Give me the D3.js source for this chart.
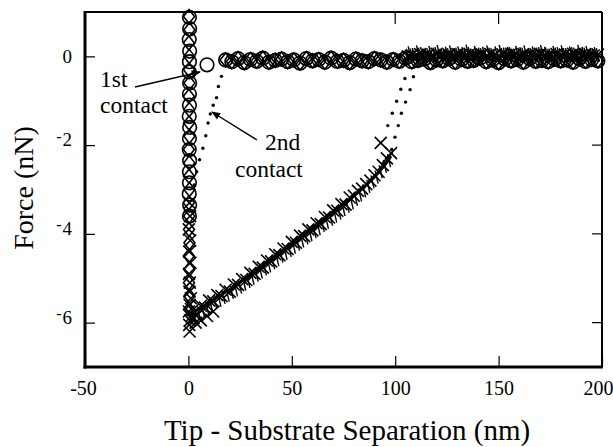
<!DOCTYPE html>
<html>
<head>
<meta charset="utf-8">
<script src="https://cdn.jsdelivr.net/npm/d3@7"></script>
<style>
  html, body { margin: 0; padding: 0; background: #fff; }
  svg { display: block; }
  text { font-family: "Liberation Serif", "Times New Roman", serif; fill: #000; }
</style>
</head>
<body>
<svg id="chart" width="613" height="447"></svg>
<script>
// ---------------- DATA ----------------
const xTicks = [-50, 0, 50, 100, 150, 200];
const yTicks = [0, -2, -4, -6];
const xTickLabels = ["-50", "0", "50", "100", "150", "200"];
const yTickLabels = ["0", "-2", "-4", "-6"];

// approach: circles, vertical column at contact
const colCircleX = [0.5, 0.6, 0.4, 0.6, 0.5, 0.4, 0.6, 0.5, 0.5, 0.4, 0.6, 0.5, 0.4, 0.6, 0.5, 0.5, 0.4, 0.6, 0.5];
const colCircleY = [0.88, 0.62, 0.38, 0.12, -0.12, -0.35, -0.6, -0.85, -1.1, -1.35, -1.6, -1.85, -2.1, -2.35, -2.6, -2.85, -3.1, -3.35, -3.6];
// isolated circle (1st contact jump)
const jumpCircleX = [9];
const jumpCircleY = [-0.19];
// approach baseline row (circles + diamonds)
const rowX = [18,21,24,27,30,33,36,39,42,45,48,51,54,57,60,63,66,69,72,75,78,81,84,87,90,93,96,99,102,105,108,111,114,117,120,123,126,129,132,135,138,141,144,147,150,153,156,159,162,165,168,171,174,177,180,183,186,189,192,195,198];
const rowY = [-0.08,-0.12,-0.05,-0.14,-0.07,-0.11,-0.04,-0.13,-0.09,-0.06,
              -0.12,-0.08,-0.15,-0.05,-0.1,-0.07,-0.13,-0.04,-0.11,-0.09,
              -0.14,-0.06,-0.1,-0.12,-0.05,-0.08,-0.13,-0.07,-0.11,-0.04,
              -0.12,-0.09,-0.06,-0.14,-0.08,-0.1,-0.05,-0.13,-0.07,-0.11,
              -0.09,-0.04,-0.12,-0.08,-0.14,-0.06,-0.1,-0.07,-0.13,-0.05,
              -0.11,-0.09,-0.12,-0.06,-0.1,-0.08,-0.13,-0.05,-0.11,-0.07,-0.1];

// diamonds, vertical column
const colDiamondX = [0.3, 0.5, 0.2, 0.4, 0.3, 0.5, 0.2, 0.4, 0.3, 0.5, 0.2, 0.4, 0.3, 0.5, 0.2, 0.4, 0.3, 0.5, 0.2, 0.4, 0.3, 0.5, 0.3];
const colDiamondY = [0.9, 0.6, 0.3, 0.0, -0.3, -0.6, -0.9, -1.2, -1.5, -1.8, -2.1, -2.4, -2.7, -3.0, -3.3, -3.6, -3.9, -4.2, -4.5, -4.8, -5.1, -5.4, -5.7];

// crosses in the column (bottom of contact)
const colCrossX = [0.5, 0.8, 0.2, 0.9, 0.4, 1.0, 0.3, 0.7, 0.5, 1.2, 0.6, 0.2, 1.5, 0.8, 0.4, 2.5, 0.6, 3.5, 6.0, 9.0, 12.0];
const colCrossY = [-3.3, -3.6, -3.9, -4.15, -4.4, -4.65, -4.9, -5.1, -5.3, -5.45, -5.6, -5.75, -5.85, -5.95, -6.05, -5.9, -6.2, -6.0, -5.95, -5.85, -5.75];

// retract curve: crosses
const retractX = [2,4,6,8,10,12,14,16,18,20,22,24,26,28,30,32,34,36,38,40,42,44,46,48,50,52,54,56,58,60,62,64,66,68,70,72,74,76,78,80,82,84,86,88,90,92,94,96,98,93];
const retractY = [-5.72,-5.8,-5.62,-5.66,-5.5,-5.52,-5.38,-5.4,-5.26,-5.3,
                  -5.14,-5.15,-5.02,-5.04,-4.88,-4.9,-4.74,-4.76,-4.6,-4.62,
                  -4.46,-4.48,-4.33,-4.34,-4.18,-4.2,-4.04,-4.05,-3.9,-3.92,
                  -3.76,-3.78,-3.62,-3.63,-3.47,-3.48,-3.33,-3.34,-3.18,-3.14,
                  -3.03,-2.98,-2.88,-2.8,-2.68,-2.6,-2.45,-2.3,-2.18,-1.95];
// retract curve: tick markers
const tickX = [1,3,5,7,9,11,13,15,17,19,21,23,25,27,29,31,33,35,37,39,41,43,45,47,49,51,53,55,57,59,61,63,65,67,69,71,73,75,77,79,81,83,85,87,89,91,93,95,97];
const tickY = [-5.9,-5.85,-5.78,-5.72,-5.66,-5.62,-5.55,-5.5,-5.43,-5.38,
               -5.32,-5.26,-5.2,-5.13,-5.07,-5.0,-4.93,-4.86,-4.79,-4.72,
               -4.65,-4.58,-4.5,-4.44,-4.37,-4.3,-4.23,-4.16,-4.09,-4.02,
               -3.95,-3.88,-3.81,-3.74,-3.67,-3.6,-3.53,-3.45,-3.38,-3.3,
               -3.22,-3.12,-3.03,-2.93,-2.83,-2.72,-2.6,-2.48,-2.35];
// retract fitted line
const lineX = [0, 10, 20, 30, 40, 50, 60, 70, 78, 85, 90, 95, 98];
const lineY = [-5.83, -5.55, -5.25, -4.93, -4.58, -4.22, -3.87, -3.5, -3.23, -2.95, -2.72, -2.45, -2.25];
// retract baseline after pull-off
const baseX = [106,108,110,112,114,116,118,120,122,124,126,128,130,132,134,136,138,140,142,144,146,148,150,152,154,156,158,160,162,164,166,168,170,172,174,176,178,180,182,184,186,188,190,192,194,196,198];
const baseY = [0.0,0.03,-0.02,0.05,0.01,0.04,-0.01,0.06,0.02,0.0,
               0.04,-0.02,0.05,0.01,0.03,0.06,-0.01,0.02,0.04,0.0,
               0.05,0.02,-0.02,0.04,0.01,0.06,0.03,0.0,0.05,-0.01,
               0.02,0.04,0.06,0.01,0.03,-0.02,0.05,0.02,0.04,0.0,
               0.06,0.01,0.03,0.05,-0.01,0.02,0.04];
const baseTickX = [107,109,111,113,115,117,119,121,123,125,127,129,131,133,135,137,139,141,143,145,147,149,151,153,155,157,159,161,163,165,167,169,171,173,175,177,179,181,183,185,187,189,191,193,195,197];
const baseTickY = [0.08,0.04,0.1,0.06,0.02,0.09,0.05,0.11,0.03,0.07,
                   0.1,0.04,0.08,0.06,0.12,0.03,0.09,0.05,0.07,0.1,
                   0.04,0.08,0.11,0.05,0.07,0.03,0.09,0.06,0.1,0.04,
                   0.08,0.05,0.11,0.07,0.03,0.09,0.06,0.1,0.04,0.08,
                   0.05,0.11,0.07,0.09,0.04,0.06];

// dotted traces
const dot2ndX = [2.8, 4.0, 5.4, 7.0, 8.4, 9.5, 10.6, 12.0, 13.6, 14.5, 16.0];
const dot2ndY = [-2.9, -2.6, -2.33, -2.07, -1.79, -1.5, -1.3, -1.1, -0.93, -0.68, -0.45];
const dotJumpAX = [96.4, 98.6, 100.7, 102.7, 104.7];
const dotJumpAY = [-1.56, -1.28, -1.01, -0.74, -0.5];
const dotJumpBX = [98.3, 99.9, 101.5, 103, 105, 107.2, 108.8];
const dotJumpBY = [-2.1, -1.82, -1.56, -1.28, -1.03, -0.75, -0.46];

const xTitle = "Tip - Substrate Separation (nm)";
const yTitle = "Force (nN)";

// ---------------- CHART ----------------
const W = 613, H = 447;
const m = { left: 85, right: 11, top: 12, bottom: 80 };
const svg = d3.select("#chart");
const x = d3.scaleLinear().domain([-50, 200]).range([m.left, W - m.right]);
const y = d3.scaleLinear().domain([-7, 1]).range([H - m.bottom, m.top]);

const zip = (a, b) => a.map((v, i) => [v, b[i]]);

const plot = svg.append("g");
const sw = 1.6;

// dotted traces
[[dot2ndX, dot2ndY], [dotJumpAX, dotJumpAY], [dotJumpBX, dotJumpBY]].forEach(([xs, ys]) => {
  plot.append("g").selectAll("circle").data(zip(xs, ys)).join("circle")
    .attr("cx", d => x(d[0])).attr("cy", d => y(d[1])).attr("r", 1.7).attr("fill", "#000");
});

// fitted line
plot.append("path").datum(zip(lineX, lineY))
  .attr("d", d3.line().x(d => x(d[0])).y(d => y(d[1])))
  .attr("fill", "none").attr("stroke", "#000").attr("stroke-width", 2.8);

// tick markers
function ticksMarks(xs, ys) {
  plot.append("g").selectAll("line").data(zip(xs, ys)).join("line")
    .attr("x1", d => x(d[0]) - 1.5).attr("y1", d => y(d[1]) - 6.5)
    .attr("x2", d => x(d[0]) + 1.5).attr("y2", d => y(d[1]) + 6.5)
    .attr("stroke", "#000").attr("stroke-width", 1.4);
}
ticksMarks(tickX, tickY);
ticksMarks(baseX, baseY);
ticksMarks(baseTickX, baseTickY);

// crosses
function crosses(xs, ys) {
  const g = plot.append("g");
  g.selectAll("path").data(zip(xs, ys)).join("path")
    .attr("d", d => {
      const cx = x(d[0]), cy = y(d[1]), s = 6;
      return `M${cx - s},${cy - s}L${cx + s},${cy + s}M${cx - s},${cy + s}L${cx + s},${cy - s}`;
    })
    .attr("stroke", "#000").attr("stroke-width", sw).attr("fill", "none");
}
crosses(colCrossX, colCrossY);
crosses(retractX, retractY);
crosses(baseX, baseY);

// diamonds
function diamonds(xs, ys) {
  plot.append("g").selectAll("path").data(zip(xs, ys)).join("path")
    .attr("d", d => {
      const cx = x(d[0]), cy = y(d[1]);
      return `M${cx},${cy - 7}L${cx + 5.5},${cy}L${cx},${cy + 7}L${cx - 5.5},${cy}Z`;
    })
    .attr("stroke", "#000").attr("stroke-width", sw).attr("fill", "none");
}
diamonds(colDiamondX, colDiamondY);
diamonds(rowX, rowY);

// circles
function circles(xs, ys) {
  plot.append("g").selectAll("circle").data(zip(xs, ys)).join("circle")
    .attr("cx", d => x(d[0])).attr("cy", d => y(d[1])).attr("r", 6.8)
    .attr("stroke", "#000").attr("stroke-width", sw).attr("fill", "none");
}
circles(colCircleX, colCircleY);
circles(jumpCircleX, jumpCircleY);
circles(rowX, rowY);

// ---------------- FRAME & AXES ----------------
const x0 = x.range()[0], x1 = x.range()[1], y0 = y.range()[0], y1 = y.range()[1];
svg.append("line").attr("x1", x0).attr("x2", x1).attr("y1", y1).attr("y2", y1).attr("stroke", "#000").attr("stroke-width", 2);
svg.append("line").attr("x1", x1).attr("x2", x1).attr("y1", y1).attr("y2", y0).attr("stroke", "#000").attr("stroke-width", 2);
svg.append("line").attr("x1", x0).attr("x2", x0).attr("y1", y1 - 1).attr("y2", y0 + 1.5).attr("stroke", "#000").attr("stroke-width", 3);
svg.append("line").attr("x1", x0 - 1.5).attr("x2", x1 + 1).attr("y1", y0).attr("y2", y0).attr("stroke", "#000").attr("stroke-width", 3);

const xAxis = svg.append("g").attr("transform", `translate(0,${y0})`)
  .call(d3.axisBottom(x).tickValues(xTicks).tickSize(-11).tickPadding(14)
    .tickFormat((d, i) => xTickLabels[i]));
xAxis.select(".domain").remove();
xAxis.selectAll(".tick line").attr("stroke-width", 1.2);
xAxis.selectAll("text").attr("font-size", 20).attr("font-family", "Liberation Serif")
  .each(function(d, i) {
    if (i === xTicks.length - 1) d3.select(this).attr("text-anchor", "end").attr("x", 11);
    if (i === 0) d3.select(this).attr("x", -2);
  });

const yAxis = svg.append("g").attr("transform", `translate(${x0},0)`)
  .call(d3.axisLeft(y).tickValues(yTicks).tickSize(-10).tickPadding(13)
    .tickFormat((d, i) => yTickLabels[i]));
yAxis.select(".domain").remove();
yAxis.selectAll(".tick line").attr("stroke-width", 1.2);
yAxis.selectAll("text").attr("font-size", 19).attr("font-family", "Liberation Serif")
  .each(function(d, i) {
    const t = d3.select(this); const lbl = yTickLabels[i];
    t.text(null);
    if (lbl.startsWith("-")) {
      t.append("tspan").attr("dy", "-0.25em").attr("font-size", 16).text("-");
      t.append("tspan").attr("dy", "0.25em").attr("dx", 1).text(lbl.slice(1));
    } else t.text(lbl);
  });

// right and top inward ticks
svg.append("g").selectAll("line").data([-2, -4, -6]).join("line")
  .attr("x1", x1).attr("x2", x1 - 10).attr("y1", d => y(d)).attr("y2", d => y(d))
  .attr("stroke", "#000").attr("stroke-width", 1.2);
svg.append("g").selectAll("line").data([100, 150]).join("line")
  .attr("x1", d => x(d)).attr("x2", d => x(d)).attr("y1", y1).attr("y2", y1 + 12)
  .attr("stroke", "#000").attr("stroke-width", 1.2);

// titles
svg.append("text").attr("x", 347).attr("y", 440).attr("text-anchor", "middle")
  .attr("font-size", 29).text(xTitle);
svg.append("text").attr("transform", `translate(33,188) rotate(-90)`)
  .attr("text-anchor", "middle").attr("font-size", 28).text(yTitle);

// annotations
const defs = svg.append("defs");
defs.append("marker").attr("id", "ah").attr("viewBox", "0 0 10 10").attr("refX", 9).attr("refY", 5)
  .attr("markerWidth", 7).attr("markerHeight", 7).attr("orient", "auto")
  .append("path").attr("d", "M0,1L10,5L0,9Z").attr("fill", "#000");

const af = 23.5;
svg.append("text").attr("x", 100).attr("y", 87).attr("font-size", af).text("1st");
svg.append("text").attr("x", 100).attr("y", 113).attr("font-size", af).text("contact");
svg.append("line").attr("x1", 135).attr("y1", 87).attr("x2", 200).attr("y2", 72)
  .attr("stroke", "#000").attr("stroke-width", 1.3).attr("marker-end", "url(#ah)");

svg.append("text").attr("x", 265).attr("y", 150).attr("font-size", af).text("2nd");
svg.append("text").attr("x", 235).attr("y", 177).attr("font-size", af).text("contact");
svg.append("line").attr("x1", 257).attr("y1", 140).attr("x2", 212).attr("y2", 112)
  .attr("stroke", "#000").attr("stroke-width", 1.3).attr("marker-end", "url(#ah)");
</script>
</body>
</html>
